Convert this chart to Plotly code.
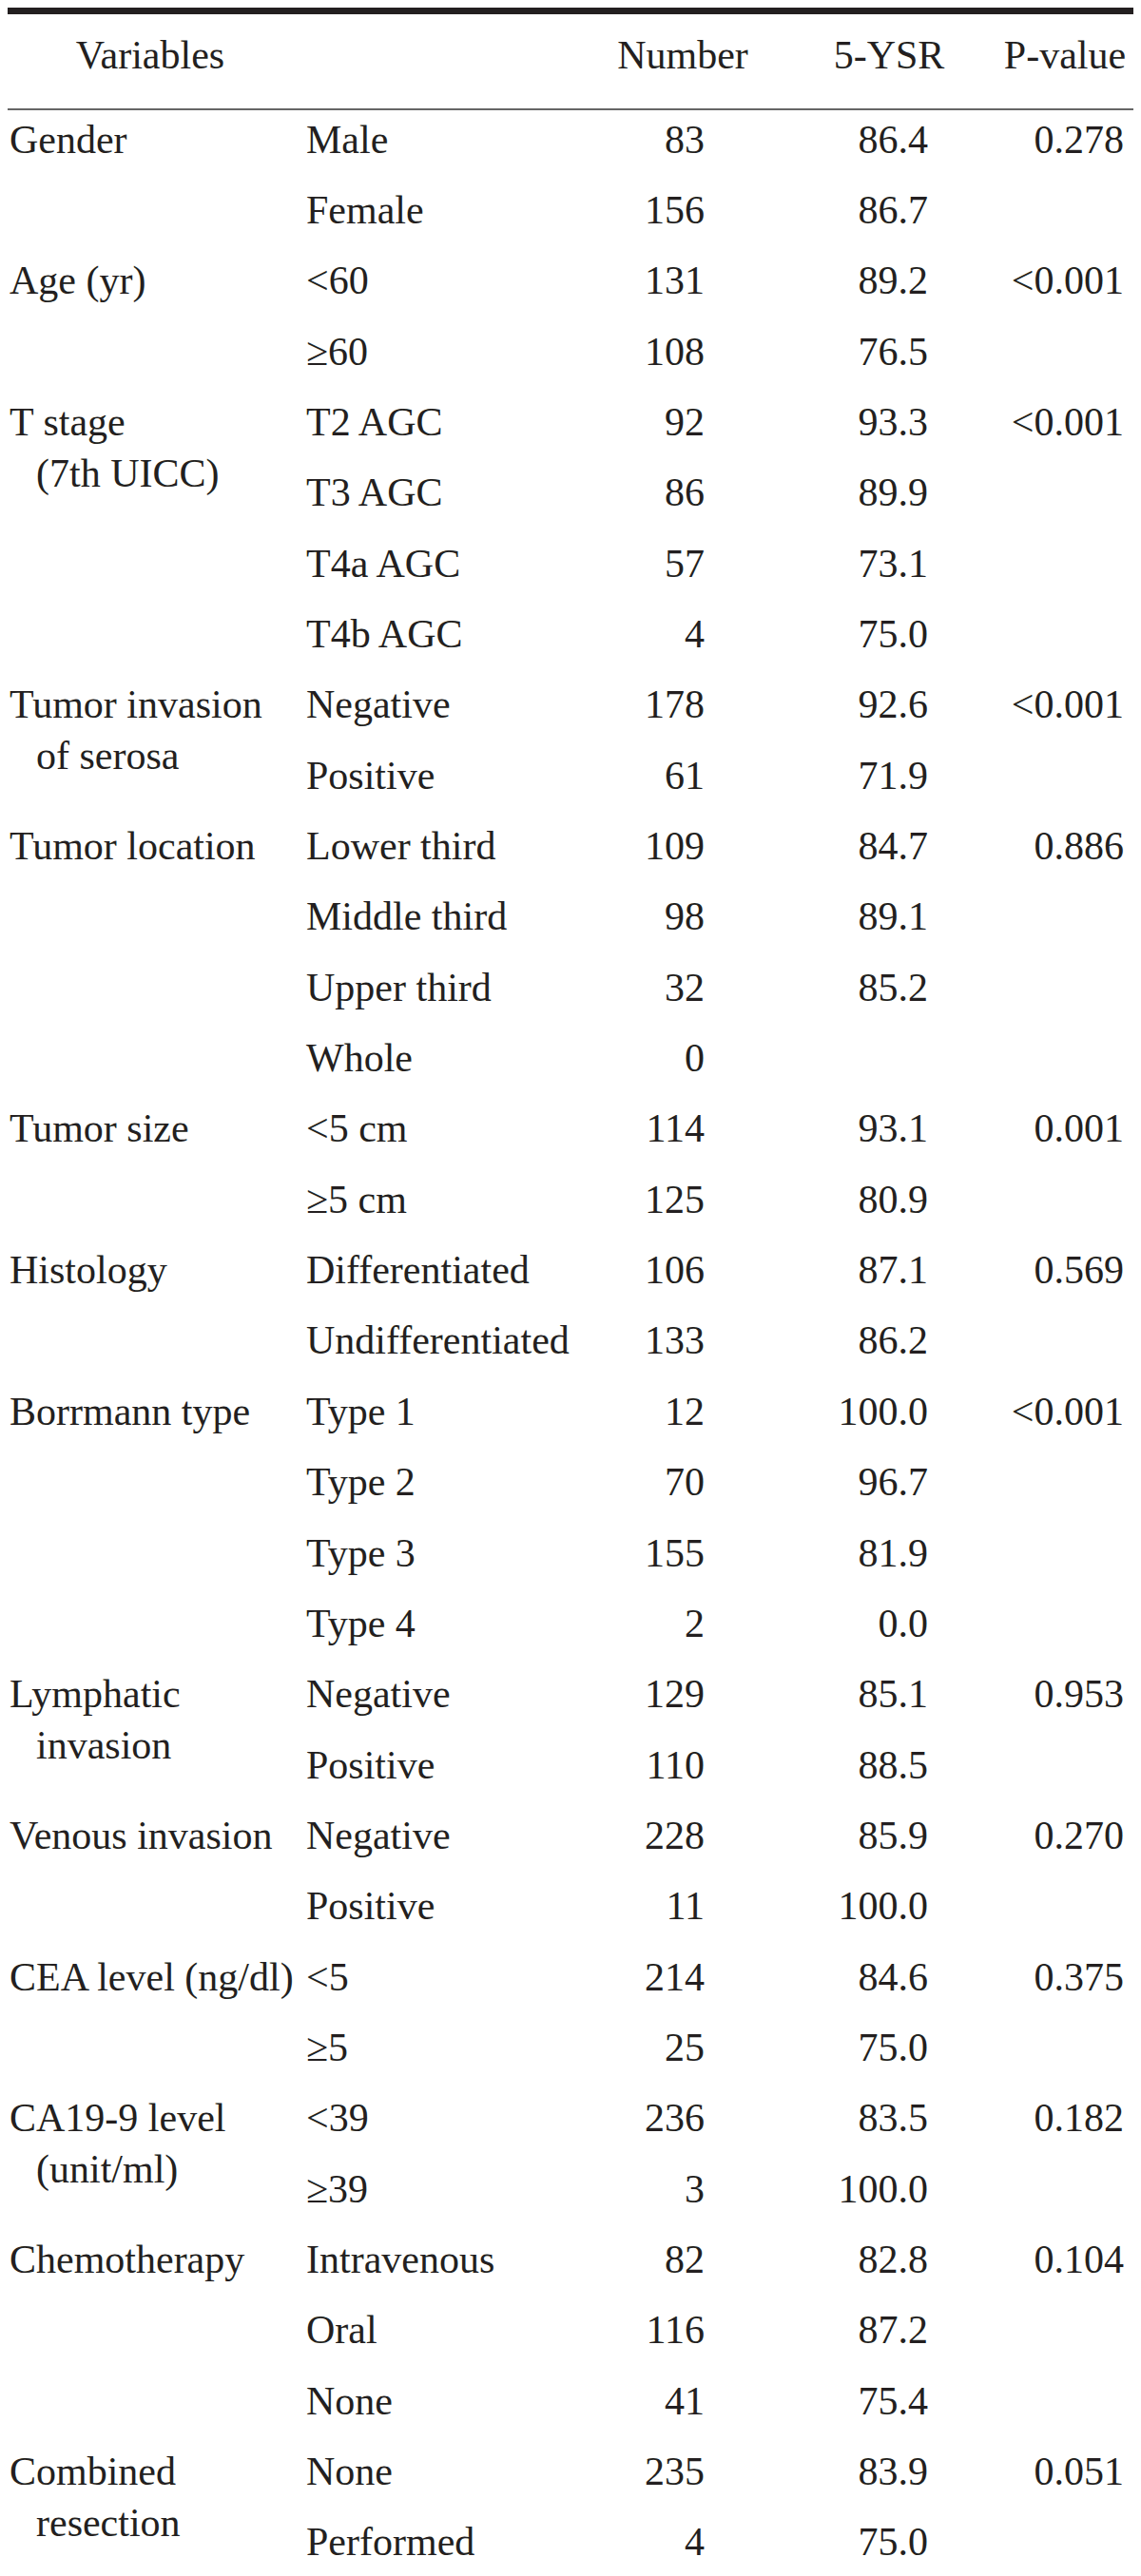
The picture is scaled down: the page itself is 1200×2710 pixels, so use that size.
import plotly.graph_objects as go

# ---------------- data ----------------
headers = ["Variables", "Number", "5-YSR", "P-value"]

group_labels = [
    ["Gender"], ["Age (yr)"], ["T stage", "(7th UICC)"], ["Tumor invasion", "of serosa"],
    ["Tumor location"], ["Tumor size"], ["Histology"], ["Borrmann type"],
    ["Lymphatic", "invasion"], ["Venous invasion"], ["CEA level (ng/dl)"],
    ["CA19-9 level", "(unit/ml)"], ["Chemotherapy"], ["Combined", "resection"],
]
group_sizes = [2, 2, 4, 2, 4, 2, 2, 4, 2, 2, 2, 2, 3, 2]
group_pvalues = ["0.278", "<0.001", "<0.001", "<0.001", "0.886", "0.001", "0.569",
                 "<0.001", "0.953", "0.270", "0.375", "0.182", "0.104", "0.051"]

subcategories = [
    "Male", "Female",
    "<60", "≥60",
    "T2 AGC", "T3 AGC", "T4a AGC", "T4b AGC",
    "Negative", "Positive",
    "Lower third", "Middle third", "Upper third", "Whole",
    "<5 cm", "≥5 cm",
    "Differentiated", "Undifferentiated",
    "Type 1", "Type 2", "Type 3", "Type 4",
    "Negative", "Positive",
    "Negative", "Positive",
    "<5", "≥5",
    "<39", "≥39",
    "Intravenous", "Oral", "None",
    "None", "Performed",
]
numbers = [83, 156, 131, 108, 92, 86, 57, 4, 178, 61, 109, 98, 32, 0, 114, 125, 106, 133,
           12, 70, 155, 2, 129, 110, 228, 11, 214, 25, 236, 3, 82, 116, 41, 235, 4]
ysr = ["86.4", "86.7", "89.2", "76.5", "93.3", "89.9", "73.1", "75.0", "92.6", "71.9",
       "84.7", "89.1", "85.2", "", "93.1", "80.9", "87.1", "86.2", "100.0", "96.7",
       "81.9", "0.0", "85.1", "88.5", "85.9", "100.0", "84.6", "75.0", "83.5", "100.0",
       "82.8", "87.2", "75.4", "83.9", "75.0"]

# ---------------- layout constants ----------------
W, H = 1200, 2710
ROW0 = 142.0          # centre of the first body row
ROW_H = 74.35         # row pitch
SUBLINE = 0.725       # second line of a group label, in rows
HEADER_Y = 53
X_GROUP, X_GROUP_INDENT = 2, 30
X_SUB = 314
X_NUM_R, X_YSR_R, X_P_R = 733, 968, 1174
HEADER_X = [150, 710, 927, 1112]
FONT = dict(family="Liberation Serif, Times New Roman, serif", size=42, color="#231f20")
LINE_DARK = "#231f20"
LINE_GRAY = "#666666"

def row_y(i):
    return ROW0 + ROW_H * i

n_rows = len(subcategories)
rows = list(range(n_rows))

# group label positions
g_x, g_y, g_t = [], [], []
p_y, p_t = [], []
start = 0
for labels, size, pv in zip(group_labels, group_sizes, group_pvalues):
    for k, lab in enumerate(labels):
        g_x.append(X_GROUP if k == 0 else X_GROUP_INDENT)
        g_y.append(row_y(start + k * SUBLINE))
        g_t.append(lab)
    p_y.append(row_y(start))
    p_t.append(pv)
    start += size

fig = go.Figure()

def text_trace(x, y, t, pos):
    fig.add_trace(go.Scatter(x=x, y=y, text=t, mode="text", textposition=pos,
                             textfont=FONT, hoverinfo="skip", showlegend=False))

# header
text_trace(HEADER_X, [HEADER_Y] * 4, headers, "middle center")
# body
text_trace(g_x, g_y, g_t, "middle right")
text_trace([X_SUB] * n_rows, [row_y(i) for i in rows], subcategories, "middle right")
text_trace([X_NUM_R] * n_rows, [row_y(i) for i in rows], [str(v) for v in numbers], "middle left")
text_trace([X_YSR_R] * n_rows, [row_y(i) for i in rows], ysr, "middle left")
text_trace([X_P_R] * len(p_y), p_y, p_t, "middle left")

# rules
fig.add_shape(type="line", x0=0, x1=W, y0=3.5, y1=3.5, line=dict(color=LINE_DARK, width=7), layer="above")
fig.add_shape(type="line", x0=0, x1=W, y0=107, y1=107, line=dict(color=LINE_GRAY, width=2.2), layer="above")
fig.add_shape(type="line", x0=0, x1=W, y0=2705.5, y1=2705.5, line=dict(color=LINE_GRAY, width=3), layer="above")

fig.update_layout(
    width=W, height=H,
    margin=dict(l=0, r=0, t=0, b=0),
    paper_bgcolor="white", plot_bgcolor="white",
    xaxis=dict(range=[0, W], visible=False, fixedrange=True),
    yaxis=dict(range=[H, 0], visible=False, fixedrange=True),
)

fig.write_html("out.html")
